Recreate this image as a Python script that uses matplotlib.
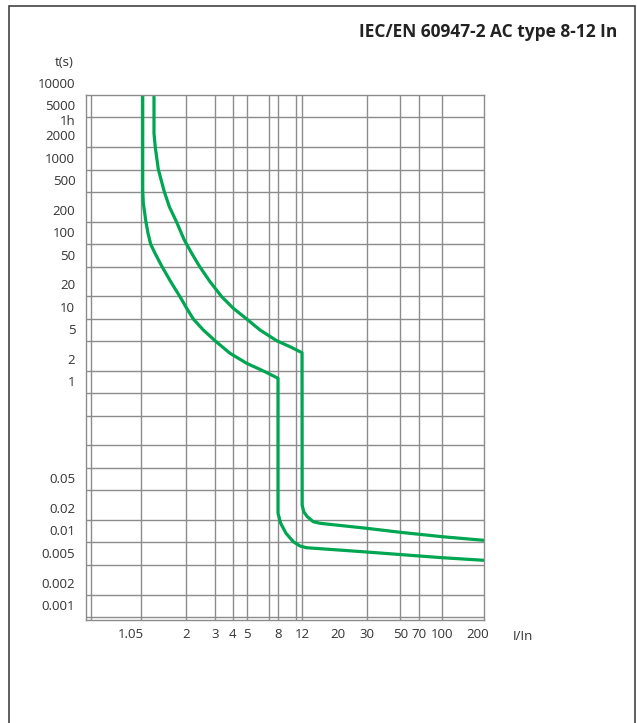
import numpy as np
import matplotlib
matplotlib.use("Agg")
import matplotlib.pyplot as plt
from matplotlib.patches import Rectangle
from matplotlib.transforms import ScaledTranslation

plt.rcParams['font.family'] = ['Open Sans', 'DejaVu Sans']

# ---------------- data ----------------
# 8 In curve (lower / left)
curve8_x = [1.081, 1.081, 1.090, 1.133, 1.166, 1.212, 1.289, 1.418, 1.614, 1.843,
            2.028, 2.222, 2.551, 3.0, 3.839, 4.956, 6.554, 8.03, 8.03, 8.303,
            8.867, 9.707, 11.26, 12.78, 30, 100, 200]
curve8_t = [10000, 532.2, 352.9, 196.3, 139.8, 99.5, 75.4, 50.9, 31.35, 19.73,
            13.79, 9.91, 7.06, 5.07, 3.437, 2.523, 1.947, 1.588, 0.02458, 0.01805,
            0.01326, 0.01022, 0.00895, 0.00849, 0.007439, 0.006239, 0.005757]

# 12 In curve (upper / right)
curve12_x = [1.270, 1.270, 1.294, 1.351, 1.472, 1.582, 1.758, 1.960, 2.173, 2.414,
             2.800, 3.350, 4.049, 4.956, 6.072, 7.874, 9.318, 11.9, 11.95, 12.24,
             12.88, 14.03, 15.44, 30, 50, 100, 200]
curve12_t = [10000, 3065, 1989, 1008, 505, 317.8, 196.3, 113.6, 75.4, 50.9,
             31.35, 19.73, 13.79, 9.91, 7.06, 5.07, 4.214, 3.501, 0.03176, 0.02582,
             0.02213, 0.01896, 0.01805, 0.01547, 0.01367, 0.01193, 0.01067]

x_tick_values = [1.05, 2, 3, 4, 5, 8, 12, 20, 30, 50, 70, 100, 200]
x_tick_labels = ['1.05', '2', '3', '4', '5', '8', '12', '20', '30', '50', '70', '100', '200']
x_grid_values = [1, 1.05, 2, 3, 4, 5, 7, 8, 10, 12, 30, 50, 70, 100]

y_tick_values = [10000, 5000, 3600, 2000, 1000, 500, 200, 100, 50, 20, 10, 5, 2, 1,
                 0.05, 0.02, 0.01, 0.005, 0.002, 0.001]
y_tick_labels = ['10000', '5000', '1h', '2000', '1000', '500', '200', '100', '50', '20',
                 '10', '5', '2', '1', '0.05', '0.02', '0.01', '0.005', '0.002', '0.001']
y_grid_values = [5000, 2000, 1000, 500, 200, 100, 50, 20, 10, 5, 2, 1, 0.5, 0.2, 0.1,
                 0.05, 0.02, 0.01, 0.005, 0.002, 0.001]

title = 'IEC/EN 60947-2 AC type 8-12 In'

# ---------------- schematic x scale (non-uniform log paper) ----------------
SCALE_V = np.array([0.95, 1, 1.05, 2, 3, 4, 5, 7, 8, 10, 12, 30, 50, 70, 100, 200])
SCALE_P = np.array([85.7, 90.7, 140.7, 185.7, 215, 232.5, 247.3, 269.3, 277.7,
                    295.7, 302.3, 366.7, 400.3, 419.3, 442.3, 484.0])
_LV = np.log10(SCALE_V)


def fwd(v):
    v = np.asarray(v, dtype=float)
    return np.interp(np.log10(np.clip(v, 1e-6, None)), _LV, SCALE_P)


def inv(p):
    p = np.asarray(p, dtype=float)
    return 10 ** np.interp(p, SCALE_P, _LV)


W, H = 637, 723
fig = plt.figure(figsize=(W / 100, H / 100), dpi=100)
ax = fig.add_axes([85.7 / W, 1 - 620 / H, (484 - 85.7) / W, (620 - 95) / H])

ax.set_xscale('function', functions=(fwd, inv))
ax.set_yscale('log')
ax.set_xlim(0.95, 200)
ax.set_ylim(10 ** (-3 - 3 / 74.57), 10000)

grid_color = '#8c8c8c'
text_color = '#333333'
green = '#00a651'

ax.xaxis.remove_overlapping_locs = False
ax.yaxis.remove_overlapping_locs = False
ax.set_xticks(x_tick_values)
ax.set_xticklabels(x_tick_labels)
ax.set_xticks(x_grid_values, minor=True)
ax.set_yticks(y_tick_values)
ax.set_yticklabels(y_tick_labels)
ax.set_yticks(y_grid_values, minor=True)
ax.xaxis.set_minor_formatter(plt.NullFormatter())
ax.yaxis.set_minor_formatter(plt.NullFormatter())

ax.grid(False, which='major')
ax.grid(True, which='minor', color=grid_color, linewidth=1.0)
ax.set_axisbelow(True)
ax.tick_params(which='both', length=0)
ax.tick_params(axis='x', which='major', labelsize=9.5, labelcolor=text_color, pad=6)
ax.tick_params(axis='y', which='major', labelsize=9.5, labelcolor=text_color, pad=7.5)
for s in ax.spines.values():
    s.set_color(grid_color)
    s.set_linewidth(1.0)

ax.plot(curve8_x, curve8_t, color=green, linewidth=2.3, solid_joinstyle='round')
ax.plot(curve12_x, curve12_t, color=green, linewidth=2.3, solid_joinstyle='round')

# label offsets (pixels) as drawn on the original chart
y_off = {lab: (0, 12) for lab in y_tick_labels}
y_off['1h'] = (0, 8)
x_off = {'1.05': (-10, 0), '200': (-6, 0)}
for tick, lab in zip(ax.yaxis.get_major_ticks(), y_tick_labels):
    dx, dy = y_off.get(lab, (0, 0))
    tick.label1.set_transform(tick.label1.get_transform() +
                              ScaledTranslation(dx / 100, dy / 100, fig.dpi_scale_trans))
for tick, lab in zip(ax.xaxis.get_major_ticks(), x_tick_labels):
    dx, dy = x_off.get(lab, (0, 0))
    tick.label1.set_transform(tick.label1.get_transform() +
                              ScaledTranslation(dx / 100, dy / 100, fig.dpi_scale_trans))

fig.text(74 / W, 1 - 63 / H, 't(s)', ha='right', va='center', fontsize=9.5, color=text_color)
fig.text(513 / W, 1 - 636 / H, 'I/In', ha='left', va='center', fontsize=9.5, color=text_color)
fig.text(617 / W, 1 - 32 / H, title, ha='right', va='center', fontsize=12.5,
         fontweight='bold', color='#222222')

# outer frame
fig.add_artist(Rectangle((9 / W, -0.02), (635 - 9) / W, 1.02 - 5.7 / H,
                         transform=fig.transFigure, fill=False,
                         edgecolor='#333333', linewidth=1.1))

fig.savefig('out.png', dpi=100)
